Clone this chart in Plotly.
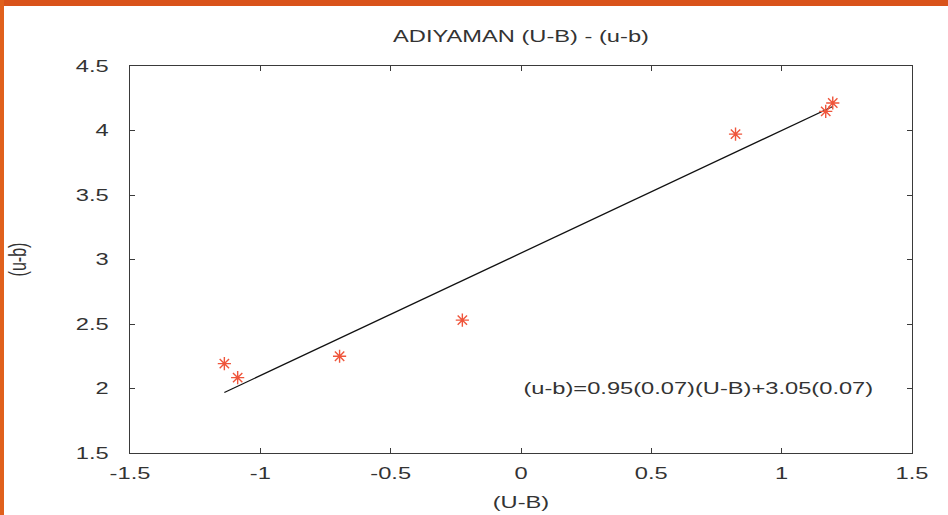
import plotly.graph_objects as go

# Colour indices: observed (U-B) vs (u-b)
ub_big = [-1.138, -1.087, -0.696, -0.225, 0.823, 1.169, 1.196]
ub_small = [2.193, 2.084, 2.250, 2.530, 3.972, 4.148, 4.213]

# Linear fit coefficients
slope, slope_err = 0.95, 0.07
intercept, intercept_err = 3.05, 0.07

x_ticks = [-1.5, -1, -0.5, 0, 0.5, 1, 1.5]
y_ticks = [1.5, 2, 2.5, 3, 3.5, 4, 4.5]

fit_x = [min(ub_big), max(ub_big)]
fit_y = [slope * v + intercept for v in fit_x]

FONT = "Liberation Sans, Arial, sans-serif"
TXT = "#333333"
AX = "#3a3a3a"
FS = 16

fig = go.Figure()
fig.add_trace(go.Scatter(
    x=fit_x, y=fit_y, mode="lines",
    line=dict(color="#111111", width=1.3),
    showlegend=False, hoverinfo="skip"))
fig.add_trace(go.Scatter(
    x=ub_big, y=ub_small, mode="markers",
    marker=dict(symbol="asterisk-open", size=11,
                line=dict(color="#ff1a1a", width=1.4)),
    showlegend=False))

axis_common = dict(
    showgrid=False, zeroline=False, showline=True, linecolor=AX, linewidth=1,
    mirror="allticks", ticks="inside", ticklen=5, tickcolor=AX, automargin=False,
    tickfont=dict(family=FONT, size=FS, color=TXT),
)

fig.update_xaxes(range=[-1.5, 1.5], tickvals=x_ticks,
                 ticktext=[f"{v:g}" for v in x_ticks],
                 ticklabelstandoff=6,
                 title=dict(text="(U-B)", font=dict(family=FONT, size=FS, color=TXT),
                            standoff=15),
                 **axis_common)
fig.update_yaxes(range=[1.5, 4.5], tickvals=y_ticks,
                 ticktext=[f"{v:g}" for v in y_ticks],
                 ticklabelstandoff=17,
                 title=dict(text="(u-b)", font=dict(family=FONT, size=FS, color=TXT),
                            standoff=58),
                 **axis_common)

fig.add_annotation(
    x=0.68, y=2.0, xref="x", yref="y", showarrow=False,
    text=f"(u-b)={slope:.2f}({slope_err:.2f})(U-B)+{intercept:.2f}({intercept_err:.2f})",
    font=dict(family=FONT, size=FS, color=TXT))

# Orange slide frame along the top and left edges
fig.add_shape(type="rect", xref="paper", yref="paper",
              x0=-130 / 782, x1=(948 - 130) / 782, y0=1 + 60 / 387, y1=1 + 70 / 387,
              fillcolor="#d9531a", line=dict(width=0), layer="below")
fig.add_shape(type="rect", xref="paper", yref="paper",
              x0=-130 / 782, x1=-126 / 782, y0=-70 / 387, y1=1 + 70 / 387,
              fillcolor="#e0601c", line=dict(width=0), layer="below")

fig.update_layout(
    width=948, height=515,
    margin=dict(l=130, r=36, t=66, b=62),
    paper_bgcolor="white", plot_bgcolor="white",
    title=dict(text="ADIYAMAN (U-B) - (u-b)", x=521 / 948, xanchor="center",
               y=1 - 36 / 515, yanchor="middle",
               font=dict(family=FONT, size=FS, color=TXT)),
)

# Horizontally widened lettering: each label is scaled along the screen x
# direction about its own anchor so positions stay put
widen_js = """
var gd = document.getElementById('{plot_id}');
var S = 1.48;
gd.querySelectorAll('g.xtick text, g.ytick text, text.gtitle, text.xtitle, text.annotation-text')
  .forEach(function (t) {
    var b = t.getBBox();
    var a = t.getAttribute('text-anchor') || 'start';
    var cx = a === 'end' ? b.x + b.width : (a === 'middle' ? b.x + b.width / 2 : b.x);
    var tr = t.getAttribute('transform') || '';
    t.setAttribute('transform', tr + ' translate(' + cx + ',0) scale(' + S + ',1) translate(' + (-cx) + ',0)');
  });
gd.querySelectorAll('text.ytitle').forEach(function (t) {
    var cx = parseFloat(t.getAttribute('x')) - 6;
    var tr = t.getAttribute('transform') || '';
    t.setAttribute('transform', 'translate(' + cx + ',0) scale(' + S + ',1) translate(' + (-cx) + ',0) ' + tr);
});
"""

fig.write_html("out.html", post_script=widen_js)
